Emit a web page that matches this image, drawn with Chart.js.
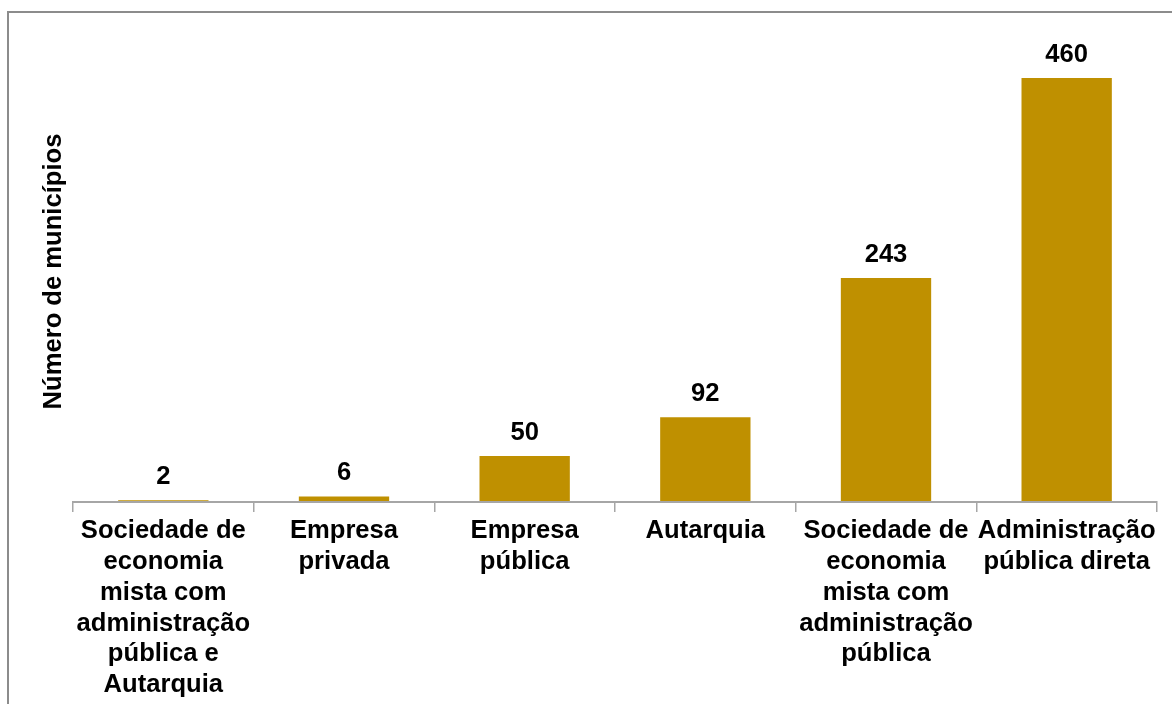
<!DOCTYPE html>
<html lang="pt">
<head>
<meta charset="utf-8">
<title>Número de municípios por forma de prestação</title>
<script src="https://cdn.jsdelivr.net/npm/chart.js@4/dist/chart.umd.min.js"></script>
<style>
  html, body { margin: 0; padding: 0; background: #fff; overflow: hidden; }
  #frame {
    position: absolute; left: 7px; top: 11px; width: 1300px; height: 800px;
    border-left: 2px solid #8c8c8c; border-top: 2px solid #8c8c8c;
  }
  #chart { position: absolute; left: 0; top: 0; }
</style>
</head>
<body>
<div id="frame"></div>
<canvas id="chart" width="1172" height="704"></canvas>
<script>
// Categorias (rótulos em várias linhas, como no original)
const categories = [
    ['Sociedade de', 'economia', 'mista com', 'administração', 'pública e', 'Autarquia'],
    ['Empresa', 'privada'],
    ['Empresa', 'pública'],
    ['Autarquia'],
    ['Sociedade de', 'economia', 'mista com', 'administração', 'pública'],
    ['Administração', 'pública direta']
];
const municipios = [2, 6, 50, 92, 243, 460];
const yMax = 500;

const barColor = '#bf9000';
const axisColor = '#a6a6a6';
const fontFamily = '"Liberation Sans", Arial, sans-serif';
const fontSize = 25.6;

// Rótulos de valor acima de cada barra + linha do eixo por cima das barras
const valueLabels = {
    id: 'valueLabels',
    afterDatasetsDraw(chart) {
        const ctx = chart.ctx;
        const meta = chart.getDatasetMeta(0);
        const xs = chart.scales.x;
        ctx.save();
        // o eixo cobre as barras muito baixas, como no original
        ctx.strokeStyle = axisColor;
        ctx.lineWidth = 2;
        ctx.beginPath();
        ctx.moveTo(xs.left, xs.top);
        ctx.lineTo(xs.right, xs.top);
        ctx.stroke();

        ctx.font = 'bold ' + fontSize + 'px ' + fontFamily;
        ctx.fillStyle = '#000';
        ctx.textAlign = 'center';
        ctx.textBaseline = 'alphabetic';
        meta.data.forEach((bar, i) => {
            ctx.fillText(String(municipios[i]), bar.x, bar.y - 16);
        });
        ctx.restore();
    }
};

new Chart(document.getElementById('chart'), {
    type: 'bar',
    data: {
        labels: categories,
        datasets: [{
            data: municipios,
            backgroundColor: barColor,
            borderWidth: 0,
            barPercentage: 0.5,
            categoryPercentage: 1.0
        }]
    },
    options: {
        responsive: false,
        animation: false,
        layout: { padding: { left: 0, right: 15, top: 41, bottom: 0 } },
        plugins: { legend: { display: false }, tooltip: { enabled: false } },
        scales: {
            x: {
                afterFit(scale) { scale.height = 202; },
                grid: {
                    offset: true,
                    drawOnChartArea: false,
                    tickLength: 10,
                    color: axisColor,
                    lineWidth: 1.5
                },
                border: { display: true, color: axisColor, width: 2 },
                ticks: {
                    autoSkip: false,
                    maxRotation: 0,
                    minRotation: 0,
                    padding: 4,
                    color: '#000',
                    font: { family: fontFamily, size: fontSize, weight: 'bold', lineHeight: 1.2 }
                }
            },
            y: {
                min: 0,
                max: yMax,
                afterFit(scale) { scale.width = 73; },
                grid: { display: false },
                border: { display: false },
                ticks: { display: false },
                title: {
                    display: true,
                    text: 'Número de municípios',
                    color: '#000',
                    padding: { top: 39, bottom: 0 },
                    font: { family: fontFamily, size: fontSize, weight: 'bold', lineHeight: 1.2 }
                }
            }
        }
    },
    plugins: [valueLabels]
});
</script>
</body>
</html>
